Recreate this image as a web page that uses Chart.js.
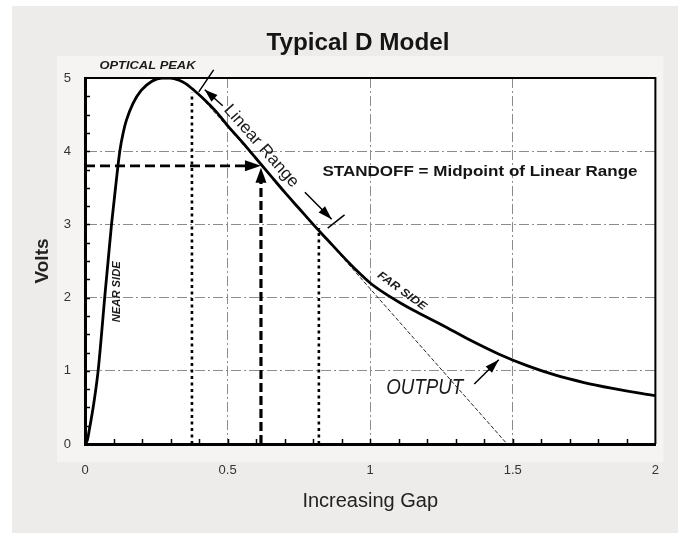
<!DOCTYPE html>
<html><head><meta charset="utf-8">
<script src="https://cdn.jsdelivr.net/npm/chart.js@4.4.1/dist/chart.umd.min.js"></script>
<style>html,body{margin:0;padding:0;background:#fff;overflow:hidden}canvas{display:block}</style>
</head><body>
<canvas id="c" width="678" height="533"></canvas>
<script>
// ---- data ----
const gapValues  = [0, 0.008, 0.015, 0.031, 0.046, 0.058, 0.069, 0.081, 0.093, 0.107, 0.122, 0.135, 0.145, 0.168, 0.197, 0.236, 0.27, 0.3, 0.33, 0.35, 0.38, 0.42, 0.46, 0.5, 0.55, 0.6, 0.65, 0.7, 0.75, 0.8, 0.85, 0.9, 0.95, 1.0, 1.05, 1.1, 1.15, 1.25, 1.35, 1.45, 1.55, 1.65, 1.75, 1.85, 1.95, 2.0];
const voltValues = [0, 0.05, 0.19, 0.56, 1.0, 1.5, 2.0, 2.5, 3.0, 3.5, 4.0, 4.27, 4.42, 4.65, 4.83, 4.96, 5.0, 5.0, 4.97, 4.93, 4.84, 4.70, 4.54, 4.35, 4.13, 3.90, 3.67, 3.44, 3.22, 3.00, 2.79, 2.58, 2.38, 2.2, 2.06, 1.94, 1.83, 1.63, 1.42, 1.23, 1.07, 0.94, 0.84, 0.76, 0.69, 0.66];
const xTickValues = [0, 0.5, 1, 1.5, 2];
const xTickLabels = ['0', '0.5', '1', '1.5', '2'];
const yTickValues = [0, 1, 2, 3, 4, 5];
const yTickLabels = ['0', '1', '2', '3', '4', '5'];
const linearStartGap = [0.375, 0.375];
const linearStartVolts = [0, 4.80];
const linearEndGap = [0.82, 0.82];
const linearEndVolts = [0, 2.95];
const standoffGap = 0.617;
const standoffVolts = 3.8;
const tangentGap = [0.38, 1.48];
const tangentVolts = [4.86, 0];
const markerAGap = [0.399, 0.451];
const markerAVolts = [4.81, 5.11];
const markerBGap = [0.851, 0.910];
const markerBVolts = [2.95, 3.13];
const arrowAGap = [0.483, 0.420];
const arrowAVolts = [4.62, 4.84];
const arrowBGap = [0.771, 0.865];
const arrowBVolts = [3.44, 3.07];
const outputArrowGap = [1.365, 1.451];
const outputArrowVolts = [0.82, 1.15];

const FONT = '"Liberation Sans", Arial, sans-serif';
const pts = (xs, ys) => xs.map((x, i) => ({x: x, y: ys[i]}));

function arrowHead(ctx, x1, y1, x2, y2, len, half) {
  const a = Math.atan2(y2 - y1, x2 - x1);
  const bx = x2 - len * Math.cos(a), by = y2 - len * Math.sin(a);
  ctx.beginPath();
  ctx.moveTo(x2, y2);
  ctx.lineTo(bx + half * Math.sin(a), by - half * Math.cos(a));
  ctx.lineTo(bx - half * Math.sin(a), by + half * Math.cos(a));
  ctx.closePath();
  ctx.fill();
}
function drawText(ctx, text, x, y, font, angle, width, color) {
  ctx.save();
  ctx.font = font;
  ctx.fillStyle = color;
  ctx.textAlign = 'center';
  ctx.textBaseline = 'middle';
  ctx.translate(x, y);
  ctx.rotate(angle);
  if (width) { const w = ctx.measureText(text).width; ctx.scale(width / w, 1); }
  ctx.fillText(text, 0, 0);
  ctx.restore();
}

const bgPlugin = {
  id: 'bg',
  beforeDraw(chart) {
    const ctx = chart.ctx, W = chart.width, H = chart.height, a = chart.chartArea;
    ctx.save();
    ctx.fillStyle = '#ffffff'; ctx.fillRect(0, 0, W, H);
    ctx.fillStyle = '#eeecea'; ctx.fillRect(12, 6, W - 12, H - 6);
    ctx.fillStyle = '#f5f4f3'; ctx.fillRect(a.left - 28, a.top - 22, a.width + 36, a.height + 40);
    ctx.fillStyle = '#ffffff'; ctx.fillRect(a.left, a.top, a.width, a.height);
    ctx.restore();
  }
};

const annotPlugin = {
  id: 'annot',
  afterDatasetsDraw(chart) {
    const ctx = chart.ctx, xs = chart.scales.x, ys = chart.scales.y, a = chart.chartArea;
    const X = v => xs.getPixelForValue(v), Y = v => ys.getPixelForValue(v);
    ctx.save();
    // inward minor ticks
    ctx.strokeStyle = '#000'; ctx.lineWidth = 1.5;
    xs.ticks.forEach(t => {
      if (t.value <= 0.001 || t.value >= 1.999) return;
      const x = Math.round(X(t.value)) + 0.5;
      ctx.beginPath(); ctx.moveTo(x, a.bottom); ctx.lineTo(x, a.bottom - 5); ctx.stroke();
    });
    ys.ticks.forEach(t => {
      if (t.value <= 0.001 || t.value >= 4.999) return;
      const y = Math.round(Y(t.value)) + 0.5;
      ctx.beginPath(); ctx.moveTo(a.left, y); ctx.lineTo(a.left + 5, y); ctx.stroke();
    });
    // top & right frame
    ctx.lineWidth = 2;
    ctx.beginPath(); ctx.moveTo(a.left, a.top); ctx.lineTo(a.right, a.top); ctx.lineTo(a.right, a.bottom); ctx.stroke();

    // standoff arrowheads
    ctx.fillStyle = '#000';
    const sx = X(standoffGap), sy = Y(standoffVolts);
    arrowHead(ctx, X(0), sy, sx, sy, 16, 5.5);
    arrowHead(ctx, sx, Y(0), sx, sy + 2, 15, 5.5);

    // linear range markers
    ctx.lineWidth = 1.5;
    [[markerAGap, markerAVolts], [markerBGap, markerBVolts]].forEach(([g, v]) => {
      ctx.beginPath(); ctx.moveTo(X(g[0]), Y(v[0])); ctx.lineTo(X(g[1]), Y(v[1])); ctx.stroke();
    });
    // arrows
    [[arrowAGap, arrowAVolts, 13, 4.5], [arrowBGap, arrowBVolts, 14, 4.5], [outputArrowGap, outputArrowVolts, 14, 4.5]].forEach(([g, v, L, h]) => {
      const x1 = X(g[0]), y1 = Y(v[0]), x2 = X(g[1]), y2 = Y(v[1]);
      ctx.beginPath(); ctx.moveTo(x1, y1); ctx.lineTo(x2, y2); ctx.stroke();
      arrowHead(ctx, x1, y1, x2, y2, L, h);
    });

    // texts
    const tangAngle = Math.atan2(Y(tangentVolts[1]) - Y(tangentVolts[0]), X(tangentGap[1]) - X(tangentGap[0]));
    drawText(ctx, 'Typical D Model', 358, 43, 'bold 24px ' + FONT, 0, 183, '#151515');
    drawText(ctx, 'OPTICAL PEAK', X(0.219), Y(5.16), 'italic bold 10.5px ' + FONT, 0, 96, '#1a1a1a');
    drawText(ctx, 'Linear Range', X(0.618), Y(4.07), '17px ' + FONT, tangAngle, 104, '#1a1a1a');
    drawText(ctx, 'STANDOFF = Midpoint of Linear Range', X(1.385), Y(3.72), 'bold 14.5px ' + FONT, 0, 315, '#151515');
    drawText(ctx, 'NEAR SIDE', X(0.111), Y(2.08), 'italic bold 11px ' + FONT, -Math.PI / 2, 61, '#1a1a1a');
    drawText(ctx, 'FAR SIDE', X(1.111), Y(2.09), 'italic bold 11px ' + FONT, 0.63, 58, '#1a1a1a');
    drawText(ctx, 'OUTPUT', X(1.191), Y(0.765), 'italic 22px ' + FONT, 0, 77, '#1a1a1a');
    ctx.restore();
  }
};

const isMajor = (v, step) => Math.abs(v / step - Math.round(v / step)) < 1e-6;

new Chart(document.getElementById('c'), {
  type: 'line',
  data: {
    datasets: [
      { label: 'Output', data: pts(gapValues, voltValues), borderColor: '#000', borderWidth: 2.8,
        pointRadius: 0, cubicInterpolationMode: 'monotone', order: 0 },
      { label: 'Tangent', data: pts(tangentGap, tangentVolts), borderColor: '#222', borderWidth: 1,
        borderDash: [4, 2], pointRadius: 0, order: 1 },
      { label: 'Linear start', data: pts(linearStartGap, linearStartVolts), borderColor: '#000', borderWidth: 2.6,
        borderDash: [3, 3.5], pointRadius: 0, order: 1 },
      { label: 'Linear end', data: pts(linearEndGap, linearEndVolts), borderColor: '#000', borderWidth: 2.6,
        borderDash: [3, 3.5], pointRadius: 0, order: 1 },
      { label: 'Standoff gap', data: pts([standoffGap, standoffGap], [0, standoffVolts - 0.12]), borderColor: '#000', borderWidth: 3.2,
        borderDash: [9, 4], pointRadius: 0, order: 1 },
      { label: 'Standoff volts', data: pts([0, standoffGap - 0.03], [standoffVolts, standoffVolts]), borderColor: '#000', borderWidth: 2.8,
        borderDash: [10, 5], pointRadius: 0, order: 1 }
    ]
  },
  options: {
    responsive: false, animation: false, devicePixelRatio: 1,
    layout: { padding: { top: 78, right: 17, left: 0, bottom: 0 } },
    plugins: { legend: { display: false }, title: { display: false }, tooltip: { enabled: false } },
    scales: {
      x: {
        type: 'linear', min: 0, max: 2,
        afterFit(s) { s.height = 89; },
        ticks: { stepSize: 0.1, autoSkip: false, maxRotation: 0, padding: 19, color: '#333',
          font: { family: FONT, size: 13 },
          callback(v) { const i = xTickValues.findIndex(t => Math.abs(t - v) < 1e-6); return i >= 0 ? xTickLabels[i] : ''; } },
        grid: { drawTicks: false, lineWidth: 1,
          color(c) { const v = c.tick ? c.tick.value : NaN; return (isMajor(v, 0.5) && v > 0.01 && v < 1.99) ? '#8c8c8c' : 'rgba(0,0,0,0)'; } },
        border: { display: true, color: '#000', width: 3, dash: [10, 3, 2, 3] },
        title: { display: true, text: 'Increasing Gap', color: '#222', font: { family: FONT, size: 20 }, padding: { top: 0, bottom: 20 } }
      },
      y: {
        type: 'linear', min: 0, max: 5,
        afterFit(s) { s.width = 85; },
        ticks: { stepSize: 0.25, autoSkip: false, padding: 14, color: '#333',
          font: { family: FONT, size: 13 },
          callback(v) { const i = yTickValues.findIndex(t => Math.abs(t - v) < 1e-6); return i >= 0 ? yTickLabels[i] : ''; } },
        grid: { drawTicks: false, lineWidth: 1,
          color(c) { const v = c.tick ? c.tick.value : NaN; return (isMajor(v, 1) && v > 0.01 && v < 4.99) ? '#8c8c8c' : 'rgba(0,0,0,0)'; } },
        border: { display: true, color: '#000', width: 3, dash: [10, 3, 2, 3] },
        title: { display: true, text: 'Volts', color: '#222', font: { family: FONT, size: 19, weight: 'bold' }, padding: { top: 31, bottom: 0 } }
      }
    }
  },
  plugins: [bgPlugin, annotPlugin]
});
</script>
</body></html>
